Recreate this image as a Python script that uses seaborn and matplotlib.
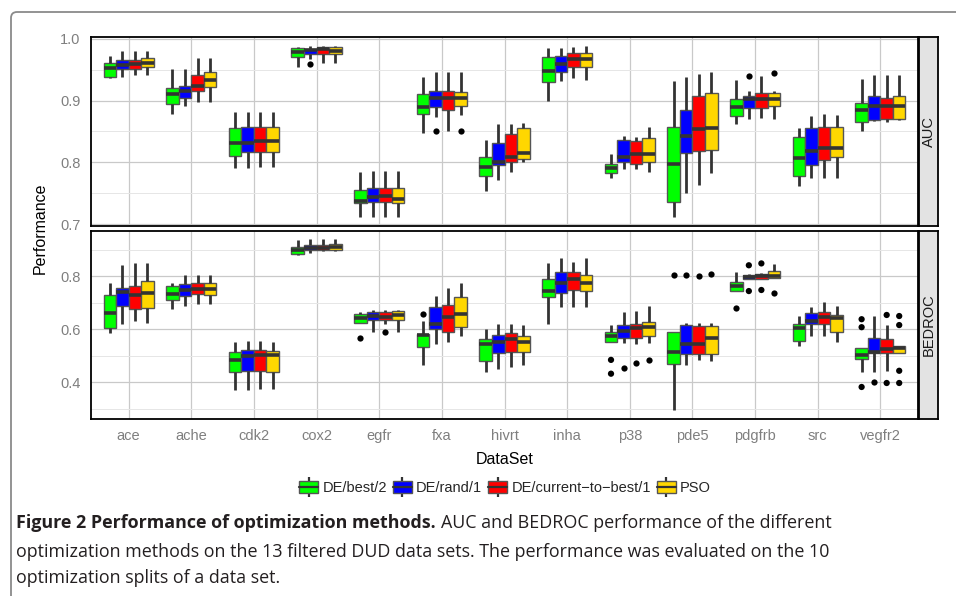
import numpy as np
import pandas as pd
import matplotlib
matplotlib.use("Agg")
import matplotlib.pyplot as plt
from matplotlib.patches import Patch, FancyBboxPatch
from matplotlib.lines import Line2D
from matplotlib.transforms import IdentityTransform
from matplotlib.ticker import MultipleLocator, FormatStrFormatter
import seaborn as sns

datasets = ["ace", "ache", "cdk2", "cox2", "egfr", "fxa", "hivrt", "inha",
            "p38", "pde5", "pdgfrb", "src", "vegfr2"]
methods = ["DE/best/2", "DE/rand/1", "DE/current\u2212to\u2212best/1", "PSO"]
colors = ["#00FF00", "#0000FF", "#FF0000", "#FFD700"]

# AUC box summaries (lower whisker, q1, median, q3, upper whisker) per method
auc_lo = {
    methods[0]: [0.936, 0.878, 0.791, 0.955, 0.711, 0.847, 0.754, 0.900, 0.775, 0.712, 0.862, 0.762, 0.851],
    methods[1]: [0.939, 0.891, 0.791, 0.967, 0.712, 0.873, 0.772, 0.932, 0.790, 0.751, 0.871, 0.774, 0.867],
    methods[2]: [0.941, 0.897, 0.793, 0.961, 0.712, 0.851, 0.785, 0.936, 0.789, 0.764, 0.872, 0.774, 0.866],
    methods[3]: [0.941, 0.897, 0.793, 0.961, 0.712, 0.876, 0.801, 0.934, 0.785, 0.783, 0.870, 0.775, 0.868],
}
auc_q1 = {
    methods[0]: [0.939, 0.895, 0.811, 0.970, 0.734, 0.878, 0.778, 0.930, 0.783, 0.736, 0.875, 0.778, 0.865],
    methods[1]: [0.951, 0.905, 0.817, 0.976, 0.736, 0.889, 0.795, 0.946, 0.800, 0.815, 0.888, 0.795, 0.869],
    methods[2]: [0.951, 0.916, 0.817, 0.976, 0.736, 0.884, 0.801, 0.954, 0.797, 0.819, 0.888, 0.804, 0.870],
    methods[3]: [0.954, 0.922, 0.817, 0.976, 0.735, 0.891, 0.805, 0.954, 0.800, 0.820, 0.892, 0.808, 0.870],
}
auc_med = {
    methods[0]: [0.952, 0.911, 0.831, 0.978, 0.738, 0.890, 0.793, 0.948, 0.791, 0.797, 0.890, 0.807, 0.884],
    methods[1]: [0.958, 0.916, 0.832, 0.982, 0.744, 0.905, 0.801, 0.959, 0.809, 0.843, 0.903, 0.818, 0.891],
    methods[2]: [0.959, 0.923, 0.835, 0.983, 0.745, 0.905, 0.808, 0.967, 0.814, 0.854, 0.903, 0.823, 0.891],
    methods[3]: [0.961, 0.934, 0.835, 0.981, 0.741, 0.905, 0.815, 0.968, 0.814, 0.855, 0.903, 0.824, 0.891],
}
auc_q3 = {
    methods[0]: [0.961, 0.920, 0.855, 0.985, 0.756, 0.911, 0.808, 0.971, 0.798, 0.858, 0.903, 0.841, 0.896],
    methods[1]: [0.966, 0.924, 0.857, 0.984, 0.758, 0.915, 0.832, 0.972, 0.836, 0.885, 0.908, 0.855, 0.908],
    methods[2]: [0.966, 0.942, 0.858, 0.987, 0.758, 0.915, 0.846, 0.977, 0.834, 0.908, 0.912, 0.857, 0.905],
    methods[3]: [0.969, 0.947, 0.858, 0.987, 0.758, 0.914, 0.856, 0.977, 0.840, 0.913, 0.912, 0.857, 0.908],
}
auc_hi = {
    methods[0]: [0.972, 0.951, 0.881, 0.987, 0.784, 0.938, 0.836, 0.985, 0.813, 0.932, 0.934, 0.856, 0.935],
    methods[1]: [0.981, 0.951, 0.881, 0.989, 0.786, 0.946, 0.862, 0.985, 0.843, 0.938, 0.915, 0.875, 0.942],
    methods[2]: [0.981, 0.969, 0.881, 0.989, 0.786, 0.946, 0.862, 0.987, 0.841, 0.943, 0.940, 0.878, 0.942],
    methods[3]: [0.981, 0.969, 0.881, 0.989, 0.786, 0.946, 0.863, 0.988, 0.857, 0.946, 0.916, 0.877, 0.942],
}
auc_outliers = [
    ("cox2", methods[1], 0.959), ("fxa", methods[1], 0.851), ("fxa", methods[3], 0.851),
    ("pdgfrb", methods[1], 0.940), ("pdgfrb", methods[3], 0.944),
]

# BEDROC box summaries
bed_lo = {
    methods[0]: [0.585, 0.675, 0.370, 0.879, 0.623, 0.466, 0.441, 0.620, 0.551, 0.295, 0.746, 0.539, 0.441],
    methods[1]: [0.620, 0.689, 0.370, 0.889, 0.591, 0.544, 0.451, 0.685, 0.548, 0.464, 0.789, 0.573, 0.441],
    methods[2]: [0.633, 0.694, 0.376, 0.894, 0.620, 0.554, 0.460, 0.685, 0.544, 0.483, 0.789, 0.573, 0.445],
    methods[3]: [0.625, 0.694, 0.375, 0.894, 0.591, 0.573, 0.464, 0.685, 0.550, 0.479, 0.794, 0.554, 0.510],
}
bed_q1 = {
    methods[0]: [0.604, 0.710, 0.439, 0.885, 0.623, 0.533, 0.480, 0.720, 0.551, 0.469, 0.746, 0.556, 0.488],
    methods[1]: [0.688, 0.725, 0.445, 0.900, 0.635, 0.601, 0.510, 0.738, 0.566, 0.508, 0.789, 0.619, 0.510],
    methods[2]: [0.675, 0.733, 0.445, 0.900, 0.635, 0.591, 0.516, 0.748, 0.569, 0.508, 0.789, 0.619, 0.510],
    methods[3]: [0.680, 0.728, 0.441, 0.900, 0.635, 0.610, 0.513, 0.744, 0.575, 0.508, 0.794, 0.589, 0.510],
}
bed_med = {
    methods[0]: [0.661, 0.733, 0.486, 0.900, 0.641, 0.579, 0.544, 0.744, 0.575, 0.514, 0.764, 0.604, 0.504],
    methods[1]: [0.741, 0.748, 0.500, 0.906, 0.651, 0.619, 0.554, 0.773, 0.594, 0.545, 0.798, 0.631, 0.516],
    methods[2]: [0.729, 0.751, 0.503, 0.906, 0.648, 0.648, 0.563, 0.791, 0.604, 0.545, 0.801, 0.645, 0.526],
    methods[3]: [0.738, 0.751, 0.503, 0.908, 0.654, 0.656, 0.554, 0.775, 0.610, 0.566, 0.800, 0.641, 0.529],
}
bed_q3 = {
    methods[0]: [0.728, 0.764, 0.515, 0.908, 0.656, 0.583, 0.563, 0.791, 0.591, 0.591, 0.779, 0.619, 0.529],
    methods[1]: [0.756, 0.769, 0.523, 0.916, 0.666, 0.683, 0.579, 0.814, 0.616, 0.616, 0.806, 0.660, 0.566],
    methods[2]: [0.763, 0.776, 0.523, 0.919, 0.664, 0.691, 0.588, 0.814, 0.620, 0.613, 0.810, 0.664, 0.564],
    methods[3]: [0.780, 0.776, 0.520, 0.920, 0.669, 0.723, 0.573, 0.806, 0.629, 0.613, 0.820, 0.655, 0.538],
}
bed_hi = {
    methods[0]: [0.775, 0.775, 0.551, 0.935, 0.666, 0.631, 0.600, 0.848, 0.615, 0.591, 0.816, 0.650, 0.531],
    methods[1]: [0.841, 0.803, 0.555, 0.939, 0.673, 0.726, 0.619, 0.870, 0.664, 0.623, 0.810, 0.683, 0.650],
    methods[2]: [0.851, 0.803, 0.555, 0.939, 0.673, 0.754, 0.619, 0.854, 0.669, 0.623, 0.813, 0.701, 0.616],
    methods[3]: [0.850, 0.803, 0.551, 0.939, 0.673, 0.773, 0.615, 0.870, 0.688, 0.623, 0.845, 0.688, 0.538],
}
bed_outliers = [
    ("egfr", methods[0], 0.569), ("egfr", methods[2], 0.589),
    ("fxa", methods[0], 0.658),
    ("p38", methods[0], 0.485), ("p38", methods[0], 0.433), ("p38", methods[1], 0.456),
    ("p38", methods[2], 0.475), ("p38", methods[3], 0.485),
    ("pde5", methods[0], 0.804), ("pde5", methods[1], 0.804), ("pde5", methods[2], 0.800),
    ("pde5", methods[3], 0.808),
    ("pdgfrb", methods[0], 0.679), ("pdgfrb", methods[1], 0.841), ("pdgfrb", methods[1], 0.744),
    ("pdgfrb", methods[2], 0.848), ("pdgfrb", methods[2], 0.748), ("pdgfrb", methods[3], 0.735),
    ("vegfr2", methods[0], 0.638), ("vegfr2", methods[0], 0.608), ("vegfr2", methods[0], 0.383),
    ("vegfr2", methods[1], 0.400), ("vegfr2", methods[2], 0.654), ("vegfr2", methods[2], 0.398),
    ("vegfr2", methods[3], 0.650), ("vegfr2", methods[3], 0.616), ("vegfr2", methods[3], 0.444),
    ("vegfr2", methods[3], 0.398),
]

W, H = 956, 596


def rect(l, t, r, b):
    # pixel box -> figure fraction
    return [l / W, 1 - b / H, (r - l) / W, (b - t) / H]


def long_frame(lo, q1, med, q3, hi):
    # five points per box give exactly these quartiles, whiskers span min..max
    rows = []
    for m in methods:
        for i, d in enumerate(datasets):
            for v in (lo[m][i], q1[m][i], med[m][i], q3[m][i], hi[m][i]):
                rows.append((d, m, v))
    return pd.DataFrame(rows, columns=["DataSet", "Method", "Performance"])


def draw_panel(ax, box_df, out_list, ylim, major, minor, bottom):
    pal = dict(zip(methods, colors))
    sns.boxplot(data=box_df, x="DataSet", y="Performance", hue="Method",
                order=datasets, hue_order=methods, palette=pal,
                whis=(0, 100), width=0.8, gap=0, saturation=1,
                linecolor="#333333", linewidth=1.0, showcaps=False,
                whiskerprops={"linewidth": 2.0},
                medianprops={"linewidth": 2.6},
                boxprops={"edgecolor": "#555555"},
                legend=False, ax=ax)
    out_df = pd.DataFrame(out_list, columns=["DataSet", "Method", "Performance"])
    sns.stripplot(data=out_df, x="DataSet", y="Performance", hue="Method",
                  order=datasets, hue_order=methods,
                  palette={m: "black" for m in methods},
                  dodge=True, jitter=False, size=4.5, linewidth=0,
                  legend=False, ax=ax)
    ax.set_xlim(-0.6, len(datasets) - 0.4)
    ax.set_ylim(*ylim)
    ax.yaxis.set_major_locator(MultipleLocator(major))
    ax.yaxis.set_minor_locator(MultipleLocator(minor))
    ax.yaxis.set_major_formatter(FormatStrFormatter("%.1f"))
    ax.set_axisbelow(True)
    ax.grid(True, which="major", color="#C9C9C9", linewidth=0.9)
    ax.grid(True, which="minor", axis="y", color="#E6E6E6", linewidth=0.7)
    ax.set_xlabel("")
    ax.set_ylabel("")
    for s in ax.spines.values():
        s.set_visible(True)
        s.set_color("black")
        s.set_linewidth(1.3)
    ax.tick_params(axis="y", which="major", length=4, color="#7F7F7F",
                   labelcolor="#7F7F7F", labelsize=10.5, width=0.9)
    ax.tick_params(axis="y", which="minor", length=0)
    if bottom:
        ax.tick_params(axis="x", length=4, color="#7F7F7F",
                       labelcolor="#7F7F7F", labelsize=10.5, width=0.9)
    else:
        ax.tick_params(axis="x", length=0, labelbottom=False)


def draw_strip(fig, box, label):
    sax = fig.add_axes(box)
    sax.set_facecolor("#E3E3E3")
    sax.set_xticks([])
    sax.set_yticks([])
    for s in sax.spines.values():
        s.set_color("black")
        s.set_linewidth(1.3)
    sax.text(0.5, 0.5, label, rotation=90, ha="center", va="center",
             fontsize=10.5, color="#1A1A1A", transform=sax.transAxes)


def main():
    sns.set_style("white")
    plt.rcParams["font.family"] = ["Liberation Sans", "DejaVu Sans"]

    fig = plt.figure(figsize=(W / 100, H / 100), dpi=100)

    ax_auc = fig.add_axes(rect(91, 37, 918, 226))
    ax_bed = fig.add_axes(rect(91, 231, 918, 419))

    draw_panel(ax_auc, long_frame(auc_lo, auc_q1, auc_med, auc_q3, auc_hi),
               auc_outliers, (0.697, 1.003), 0.1, 0.05, False)
    draw_panel(ax_bed, long_frame(bed_lo, bed_q1, bed_med, bed_q3, bed_hi),
               bed_outliers, (0.2625, 0.97), 0.2, 0.1, True)

    draw_strip(fig, rect(919, 37, 938, 226), "AUC")
    draw_strip(fig, rect(919, 231, 938, 419), "BEDROC")

    fig.text(40 / W, 1 - 228 / H, "Performance", rotation=90, ha="center",
             va="center", fontsize=11.5, color="black")
    fig.text(505 / W, 1 - 460 / H, "DataSet", ha="center", va="center",
             fontsize=11.5, color="black")

    # legend keys: whisker, box, median
    handles = [(Line2D([], [], color="#333333", marker="|", markersize=15,
                       markeredgewidth=1.6, linestyle="none"),
                Patch(facecolor=c, edgecolor="#555555", linewidth=1.0),
                Line2D([], [], color="#333333", linewidth=1.6)) for c in colors]
    fig.legend(handles, methods, loc="center", bbox_to_anchor=(505 / W, 1 - 488 / H),
               ncol=4, frameon=False, handlelength=1.3, handleheight=0.9,
               handletextpad=0.3, columnspacing=0.4, fontsize=10.5)

    # rounded gray frame (only top and left edges visible)
    frame = FancyBboxPatch((11, -20), 1000, H - 12 + 20,
                           boxstyle="round,pad=0,rounding_size=6",
                           transform=IdentityTransform(), fill=False,
                           edgecolor="#8A8A8A", linewidth=1.3)
    fig.add_artist(frame)

    cap_font = ["Open Sans", "DejaVu Sans"]
    cap_size = 12.9
    t1 = fig.text(16 / W, 1 - 523 / H, "Figure 2 Performance of optimization methods.",
                  fontweight="bold", family=cap_font, fontsize=cap_size,
                  va="center", color="#231F20")
    fig.canvas.draw()
    bb = t1.get_window_extent()
    fig.text((bb.x1 + 5) / W, 1 - 523 / H,
             "AUC and BEDROC performance of the different",
             family=cap_font, fontsize=cap_size, va="center", color="#231F20")
    fig.text(16 / W, 1 - 552 / H,
             "optimization methods on the 13 filtered DUD data sets. "
             "The performance was evaluated on the 10",
             family=cap_font, fontsize=cap_size, va="center", color="#231F20")
    fig.text(16 / W, 1 - 578 / H, "optimization splits of a data set.",
             family=cap_font, fontsize=cap_size, va="center", color="#231F20")

    fig.savefig("out.png", dpi=100)


if __name__ == "__main__":
    main()
